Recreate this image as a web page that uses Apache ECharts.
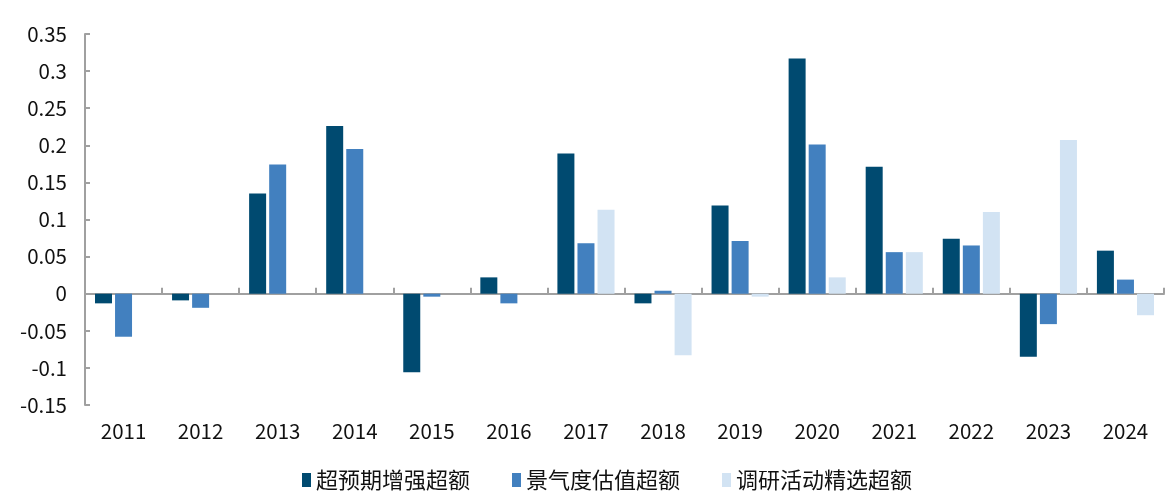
<!DOCTYPE html>
<html>
<head>
<meta charset="utf-8">
<script src="https://cdn.jsdelivr.net/npm/echarts@6/dist/echarts.min.js"></script>
<style>
html,body{margin:0;padding:0;background:#fff;}
#chart{width:1176px;height:501px;}
</style>
</head>
<body>
<div id="chart"></div>
<script>
const categories = ['2011','2012','2013','2014','2015','2016','2017','2018','2019','2020','2021','2022','2023','2024'];
const seriesNames = ['超预期增强超额','景气度估值超额','调研活动精选超额'];
const superExpect = [-0.013, -0.009, 0.135, 0.226, -0.106, 0.022, 0.189, -0.013, 0.119, 0.317, 0.171, 0.074, -0.085, 0.058];
const prosperity = [-0.058, -0.019, 0.174, 0.195, -0.004, -0.013, 0.068, 0.004, 0.071, 0.201, 0.056, 0.065, -0.041, 0.019];
const research = [null, null, null, null, null, null, 0.113, -0.083, -0.004, 0.022, 0.056, 0.110, 0.207, -0.029];
const yTicks = [-0.15, -0.1, -0.05, 0, 0.05, 0.1, 0.15, 0.2, 0.25, 0.3, 0.35];
const colors = ['#004A70', '#4280BF', '#D2E3F3'];

const chart = echarts.init(document.getElementById('chart'));
const font = '"Noto Sans CJK SC", "Noto Sans", sans-serif';
chart.setOption({
  animation: false,
  backgroundColor: '#fff',
  color: colors,
  grid: { left: 85, right: 12, top: 34, bottom: 96, containLabel: false },
  legend: {
    bottom: 5,
    left: 297,
    icon: 'rect',
    itemWidth: 9,
    itemHeight: 14,
    itemGap: 42,
    textStyle: { fontSize: 22, color: '#111', fontFamily: font },
    data: seriesNames
  },
  xAxis: [{
    type: 'category',
    data: categories,
    axisLine: { onZero: true, lineStyle: { color: '#A0A0A0', width: 2 } },
    axisTick: { show: true, inside: true, length: 6, lineStyle: { color: '#A0A0A0', width: 2 } },
    axisLabel: { show: false }
  }, {
    type: 'category',
    data: categories,
    position: 'bottom',
    axisLine: { show: false, onZero: false },
    axisTick: { show: false },
    axisLabel: { margin: 16, fontSize: 20.5, color: '#111', fontFamily: font }
  }],
  yAxis: {
    type: 'value',
    min: yTicks[0],
    max: yTicks[yTicks.length - 1],
    interval: 0.05,
    splitLine: { show: false },
    axisLine: { show: true, lineStyle: { color: '#A0A0A0', width: 2 } },
    axisTick: { show: true, inside: true, length: 5, lineStyle: { color: '#A0A0A0', width: 2 } },
    axisLabel: {
      margin: 18, fontSize: 20.5, color: '#111', fontFamily: font,
      formatter: v => String(parseFloat(v.toFixed(2)))
    }
  },
  series: [
    { name: seriesNames[0], type: 'bar', data: superExpect, barWidth: 17, barGap: '18%', xAxisIndex: 0 },
    { name: seriesNames[1], type: 'bar', data: prosperity, barWidth: 17, barGap: '18%', xAxisIndex: 0 },
    { name: seriesNames[2], type: 'bar', data: research, barWidth: 17, barGap: '18%', xAxisIndex: 0 }
  ]
});
</script>
</body>
</html>
